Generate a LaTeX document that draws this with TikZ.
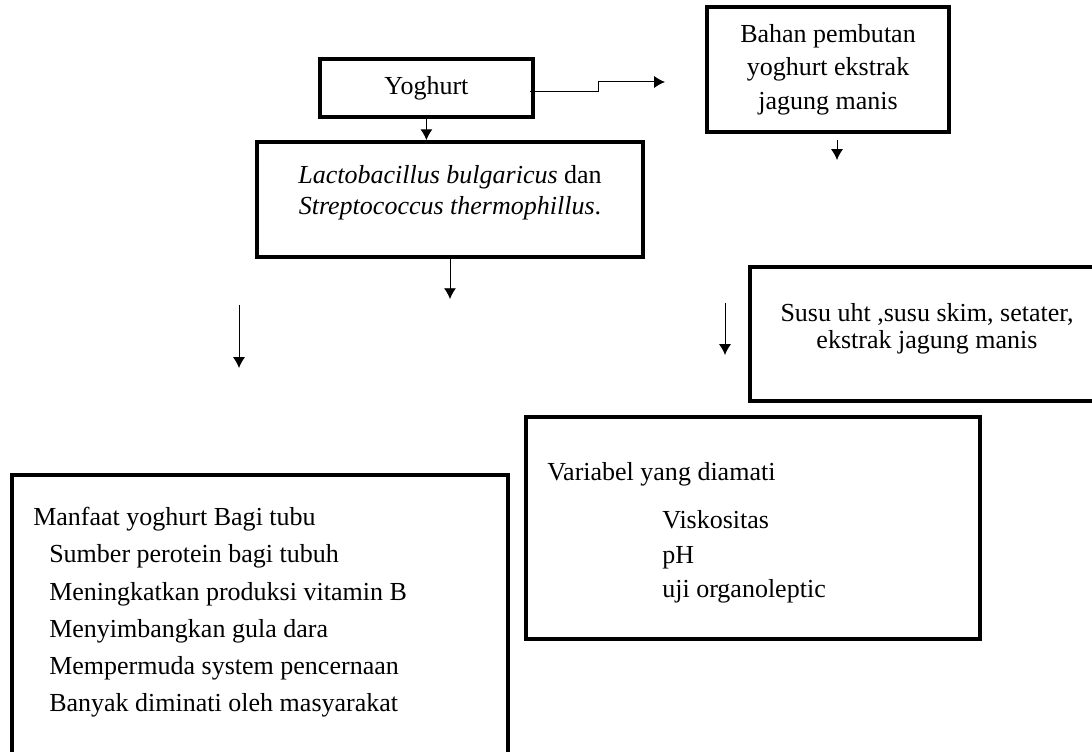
\documentclass[tikz,border=0pt]{standalone}
\usepackage{fontspec}
\setmainfont{Liberation Serif}
\usetikzlibrary{arrows.meta,positioning}
\tikzset{
  box/.style={draw, line width=2.4pt, inner sep=0pt},
  txt/.style={inner sep=0pt},
  link/.style={->, line width=0.7pt},
}
\begin{document}
\begin{tikzpicture}[>={Latex[length=2.7mm,width=3mm]}, font=\fontsize{18.5}{24}\selectfont]
\useasboundingbox (0,0) rectangle (27.3,18.8);
\clip (0,0) rectangle (27.3,18.8);
% boxes
\node[box, line width=2.8pt, minimum width=5.325cm, minimum height=1.45cm] (yog) at (10.66,16.6) {Yoghurt};
\node[box, minimum width=6.05cm, minimum height=3.125cm, align=center,
  font=\fontsize{18.5}{23.8}\selectfont] (bah) at (20.7,17.06) {Bahan pembutan\\ yoghurt ekstrak\\ jagung manis};
\node[box, line width=2.8pt, minimum width=9.65cm, minimum height=2.875cm] (lac) at (11.25,13.81) {};
\node[box, minimum width=9.25cm, minimum height=3.35cm] (susu) at (23.375,10.45) {};
\node[box, minimum width=11.35cm, minimum height=5.55cm] (var) at (18.825,5.6) {};
\node[box, minimum width=12.4cm, minimum height=7.625cm] (man) at (6.5,3.11) {};
% texts
\node[txt, align=center, font=\fontsize{18.5}{22}\selectfont] (lacTxt) at ([yshift=1.75mm]lac.center)
  {\textit{Lactobacillus bulgaricus} dan\\ \textit{Streptococcus thermophillus}.};
\node[txt, align=center, font=\fontsize{18.5}{19.5}\selectfont] (susuTxt) at (23.175,10.585)
  {Susu uht ,susu skim, setater,\\ ekstrak jagung manis};
\node[txt, align=left, anchor=north west, font=\fontsize{18.5}{24.3}\selectfont] (varTxt) at (13.675,7.25)
  {Variabel yang diamati\\[0.36cm]
   \hspace*{2.875cm}Viskositas\\
   \hspace*{2.875cm}pH\\
   \hspace*{2.875cm}uji organoleptic};
\node[txt, align=left, anchor=north west, font=\fontsize{18.5}{26.5}\selectfont] (manTxt) at (0.825,6.125)
  {Manfaat yoghurt Bagi tubu\\
   \hspace*{0.4cm}Sumber perotein bagi tubuh\\
   \hspace*{0.4cm}Meningkatkan produksi vitamin B\\
   \hspace*{0.4cm}Menyimbangkan gula dara\\
   \hspace*{0.4cm}Mempermuda system pencernaan\\
   \hspace*{0.4cm}Banyak diminati oleh masyarakat};
% free ends
\coordinate (stepEnd) at (16.625,16.75);
\coordinate (bahA) at (20.925,15.3);
\coordinate (bahB) at (20.925,14.8);
\coordinate (leftA) at (5.975,11.175);
\coordinate (leftB) at (5.975,9.6);
\coordinate (midA) at (18.125,11.225);
\coordinate (midB) at (18.125,9.925);
% arrows
\draw[link] ([xshift=-1.25mm,yshift=-1mm]yog.east) -- ++(1.725,0) |- (stepEnd);
\draw[link] (yog.south) -- (yog.south |- lac.north);
\draw[link] (bahA) -- (bahB);
\draw[link] (lac.south) -- ++(0,-1);
\draw[link] (leftA) -- (leftB);
\draw[link] (midA) -- (midB);
\end{tikzpicture}
\end{document}
